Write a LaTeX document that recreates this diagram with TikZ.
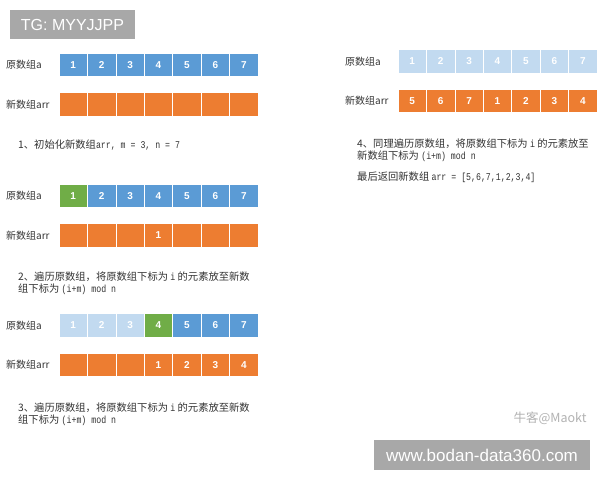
\documentclass[tikz,border=0pt]{standalone}
\usepackage{fontspec}
\newfontfamily\cjk{Noto Sans CJK SC}
\newfontfamily\numf{Liberation Sans}
\newfontfamily\codef[FakeStretch=0.8]{Liberation Mono}
\definecolor{cblue}{HTML}{5B9BD5}
\definecolor{corange}{HTML}{ED7D31}
\definecolor{cgreen}{HTML}{70AD47}
\definecolor{clight}{HTML}{C2DAF0}
\definecolor{cgray}{HTML}{A8A8A8}
\definecolor{ctext}{HTML}{333333}
\newcommand{\code}[1]{{\fontsize{10.3}{12}\selectfont\codef #1}}
\newcommand{\cellrow}[4]{%
  \foreach \cc/\vv [count=\i] in {#4}
    \node[cell, fill=\cc] (#1-\i) at ({#2+14.215+28.43*(\i-1)}, #3) {\vv};}
\begin{document}
\begin{tikzpicture}[x=1pt,y=-1pt,
  cell/.style={draw=white, line width=0.7pt, minimum width=28.43pt, minimum height=23.5pt,
    inner sep=0pt, font=\numf\bfseries\fontsize{10}{10}\selectfont, text=white},
  lbl/.style={anchor=west, inner sep=0pt, text=ctext, font=\cjk\fontsize{10}{12}\selectfont},
  steptext/.style={anchor=north west, inner sep=0pt, align=left, text=ctext, font=\cjk\fontsize{10.3}{12}\selectfont},
  wbox/.style={fill=cgray, text=white, inner sep=0pt, font=\numf}]
\useasboundingbox (0,0) rectangle (600,480);
\fill[white] (0,0) rectangle (600,480);

% TG box
\node[wbox, minimum width=125pt, minimum height=29pt, font=\numf\fontsize{16}{16}\selectfont] (tg) at (72.5,24.5) {TG: MYYJJPP};

% Section 1
\node[lbl] (l1a) at (6,65) {原数组a};
\node[lbl] (l1b) at (6,104.5) {新数组arr};
\cellrow{s1a}{59}{65}{cblue/1,cblue/2,cblue/3,cblue/4,cblue/5,cblue/6,cblue/7}
\cellrow{s1b}{59}{104.5}{corange/{},corange/{},corange/{},corange/{},corange/{},corange/{},corange/{}}
\node[steptext] (t1) at (18,140) {1、初始化新数组\code{arr, m = 3, n = 7}};

% Section 2
\node[lbl] (l2a) at (6,196) {原数组a};
\node[lbl] (l2b) at (6,235.5) {新数组arr};
\cellrow{s2a}{59}{196}{cgreen/1,cblue/2,cblue/3,cblue/4,cblue/5,cblue/6,cblue/7}
\cellrow{s2b}{59}{235.5}{corange/{},corange/{},corange/{},corange/1,corange/{},corange/{},corange/{}}
\node[steptext] (t2) at (18,271.5) {2、遍历原数组，将原数组下标为 \code{i} 的元素放至新数\\组下标为 \code{(i+m) mod n}};

% Section 3
\node[lbl] (l3a) at (6,325.5) {原数组a};
\node[lbl] (l3b) at (6,365) {新数组arr};
\cellrow{s3a}{59}{325.5}{clight/1,clight/2,clight/3,cgreen/4,cblue/5,cblue/6,cblue/7}
\cellrow{s3b}{59}{365}{corange/{},corange/{},corange/{},corange/1,corange/2,corange/3,corange/4}
\node[steptext] (t3) at (18,402.5) {3、遍历原数组，将原数组下标为 \code{i} 的元素放至新数\\组下标为 \code{(i+m) mod n}};

% Right section
\node[lbl] (l4a) at (345,61.5) {原数组a};
\node[lbl] (l4b) at (345,101) {新数组arr};
\cellrow{s4a}{398}{61.5}{clight/1,clight/2,clight/3,clight/4,clight/5,clight/6,clight/7}
\cellrow{s4b}{398}{101}{corange/5,corange/6,corange/7,corange/1,corange/2,corange/3,corange/4}
\node[steptext] (t4) at (357,138.5) {4、同理遍历原数组，将原数组下标为 \code{i} 的元素放至\\新数组下标为 \code{(i+m) mod n}};
\node[steptext] (t5) at (357,171.5) {最后返回新数组 \code{arr = [5,6,7,1,2,3,4]}};

% watermark
\node[inner sep=0pt, text=black!30, font=\cjk\fontsize{12.5}{12.5}\selectfont] (wm) at (550,418) {牛客@Maokt};

% bottom box
\node[wbox, minimum width=216pt, minimum height=30pt, font=\numf\fontsize{17}{17}\selectfont] (www) at (482,455) {www.bodan-data360.com};
\end{tikzpicture}
\end{document}
